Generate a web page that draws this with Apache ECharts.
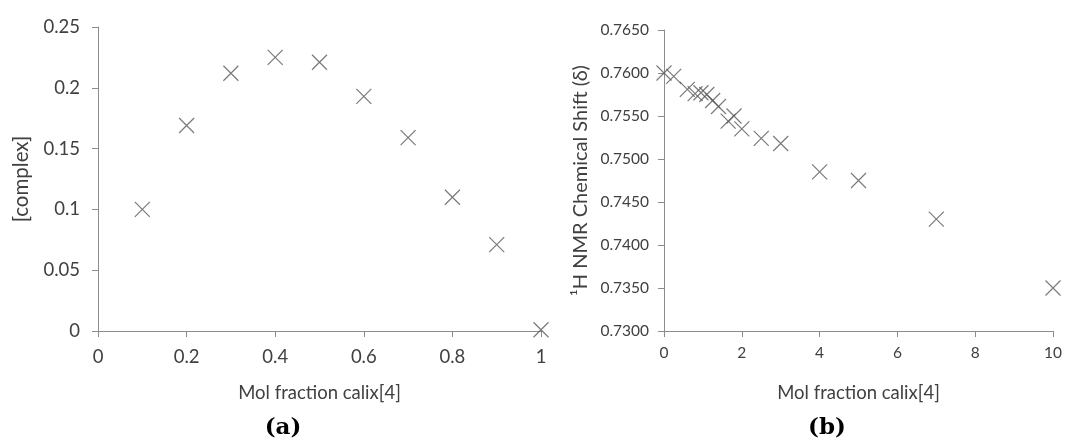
<!DOCTYPE html>
<html>
<head>
<meta charset="utf-8">
<script src="https://cdn.jsdelivr.net/npm/echarts@6/dist/echarts.min.js"></script>
<style>
  html, body { margin: 0; padding: 0; background: #fff; }
  #main { width: 1065px; height: 442px; }
</style>
</head>
<body>
<div id="main"></div>
<script>
// (a) Job plot
const molFractionA = [0.1, 0.2, 0.3, 0.4, 0.5, 0.6, 0.7, 0.8, 0.9, 1.0]
const complexA = [0.100, 0.169, 0.212, 0.225, 0.221, 0.193, 0.159, 0.110, 0.071, 0.001]

// (b) titration shift
const molFractionB = [0, 0.25, 0.6, 0.8, 0.95, 1.1, 1.25, 1.4, 1.65, 1.8, 2.0, 2.5, 3.0, 4, 5, 7, 10]
const shiftB = [0.7600, 0.7596, 0.7581, 0.7576, 0.7577, 0.7575, 0.7568, 0.7561, 0.7544, 0.7550,
  0.7535, 0.7524, 0.7518, 0.7485, 0.7475, 0.7430, 0.7350]

const AXIS_GREY = '#8c8c8c'
const TEXT = '#404040'
const FONT = 'Lato'
const CROSS = 'path://M0,0L10,10M10,0L0,10'

function zip(xs, ys) {
  return xs.map((x, i) => [x, ys[i]])
}

function valueAxis(extra) {
  return Object.assign({
    type: 'value',
    splitLine: { show: false },
    axisLine: { show: true, lineStyle: { color: AXIS_GREY, width: 1 } },
    axisTick: { show: true, inside: false, length: 6, lineStyle: { color: AXIS_GREY } },
    nameTextStyle: { color: TEXT, fontFamily: FONT, fontSize: 18.5 },
  }, extra)
}

function labels(size, margin, fmt) {
  return { color: TEXT, fontFamily: FONT, fontSize: size, margin, formatter: fmt }
}

const crossSeries = (xi, yi, data) => ({
  type: 'scatter',
  xAxisIndex: xi,
  yAxisIndex: yi,
  symbol: CROSS,
  symbolSize: 15,
  itemStyle: { color: 'none', borderColor: '#595959', borderWidth: 1.2 },
  data,
})

const caption = (letter, left) => ({
  text: '{p|(}{b|' + letter + '}{p|)}',
  left,
  top: 412,
  textAlign: 'center',
  textStyle: {
    rich: {
      p: { fontFamily: 'DejaVu Serif', fontSize: 23, color: '#000' },
      b: { fontFamily: 'DejaVu Serif', fontSize: 23, fontWeight: 'bold', color: '#000' },
    },
  },
})

const myChart = echarts.init(document.getElementById('main'))

myChart.setOption({
  animation: false,
  title: [caption('a', 278), caption('b', 822)],
  grid: [
    { left: 98, top: 27, width: 443, height: 304 },
    { left: 664, top: 30, width: 391, height: 301 },
  ],
  xAxis: [
    valueAxis({
      gridIndex: 0, min: 0, max: 1, interval: 0.2,
      name: 'Mol fraction calix[4]', nameLocation: 'middle', nameGap: 53,
      axisLabel: labels(18.5, 17, v => String(+v.toFixed(1))),
    }),
    valueAxis({
      gridIndex: 1, min: 0, max: 10, interval: 2,
      name: 'Mol fraction calix[4]', nameLocation: 'middle', nameGap: 53,
      axisLabel: labels(15.5, 14),
    }),
  ],
  yAxis: [
    valueAxis({
      gridIndex: 0, min: 0, max: 0.25, interval: 0.05,
      name: '[complex]', nameLocation: 'middle', nameGap: 66,
      nameTextStyle: { color: TEXT, fontFamily: FONT, fontSize: 20.5 },
      axisLabel: labels(18.5, 18, v => String(+v.toFixed(2))),
    }),
    valueAxis({
      gridIndex: 1, min: 0.73, max: 0.765, interval: 0.005,
      name: '¹H NMR Chemical Shift (δ)', nameLocation: 'middle', nameGap: 73,
      nameTextStyle: { color: TEXT, fontFamily: FONT, fontSize: 20 },
      axisLabel: labels(15.5, 15, v => v.toFixed(4)),
    }),
  ],
  series: [
    crossSeries(0, 0, zip(molFractionA, complexA)),
    crossSeries(1, 1, zip(molFractionB, shiftB)),
  ],
})
</script>
</body>
</html>
